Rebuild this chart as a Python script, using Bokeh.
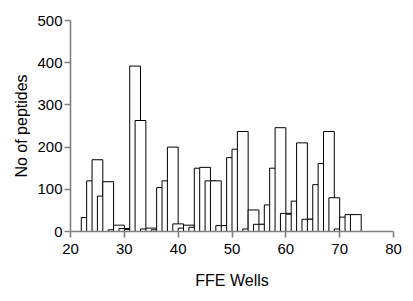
from bokeh.plotting import figure
from bokeh.models import Range1d, FixedTicker, ColumnDataSource
from bokeh.embed import file_html
from bokeh.resources import INLINE

# FFE well numbers (each bar spans two wells, drawn in order)
wells = [22, 23, 24, 25, 26, 27, 28, 29, 30, 31, 32, 33, 34, 35, 36, 37, 38,
         39, 40, 41, 42, 43, 44, 45, 46, 47, 48, 49, 50, 51, 52, 53, 54, 55,
         56, 57, 58, 59, 60, 61, 62, 63, 64, 65, 66, 67, 68, 69, 70, 71, 72]
peptides = [33, 120, 170, 84, 118, 4, 15, 7, 5, 392, 263, 6, 8, 4, 104, 120, 200,
            18, 8, 15, 10, 150, 152, 120, 120, 14, 14, 175, 195, 237, 6, 51, 17, 17,
            63, 150, 246, 43, 41, 72, 210, 29, 29, 111, 161, 237, 80, 6, 34, 40, 40]
bin_span = 2
x_ticks = [20, 30, 40, 50, 60, 70, 80]
y_ticks = [0, 100, 200, 300, 400, 500]

src = ColumnDataSource(dict(
    center=[w + bin_span / 2 for w in wells],
    top=peptides,
))

p = figure(width=413, height=301, output_backend="svg", toolbar_location=None,
           x_range=Range1d(20, 80), y_range=Range1d(0, 500),
           min_border_left=70, min_border_right=20, min_border_top=20,
           min_border_bottom=70)

p.vbar(x="center", width=bin_span, top="top", bottom=0, source=src,
       fill_color="white", line_color="black", line_width=1)

p.xgrid.visible = False
p.ygrid.visible = False
p.outline_line_color = None
p.background_fill_color = "white"
p.border_fill_color = "white"

font = "Liberation Sans"
for ax in (p.xaxis[0], p.yaxis[0]):
    ax.axis_line_color = "#808080"
    ax.axis_line_width = 1.6
    ax.major_tick_line_color = "#808080"
    ax.major_tick_line_width = 1.6
    ax.major_tick_out = 6
    ax.major_tick_in = 0
    ax.minor_tick_line_color = None
    ax.major_label_text_font = font
    ax.major_label_text_font_size = "15px"
    ax.major_label_text_color = "black"
    ax.axis_label_text_font = font
    ax.axis_label_text_font_size = "16px"
    ax.axis_label_text_font_style = "normal"
    ax.axis_label_text_color = "black"

p.xaxis[0].ticker = FixedTicker(ticks=x_ticks)
p.yaxis[0].ticker = FixedTicker(ticks=y_ticks)
p.xaxis[0].axis_label = "FFE Wells"
p.yaxis[0].axis_label = "No of peptides"
p.xaxis[0].major_label_standoff = 6
p.yaxis[0].major_label_standoff = 2
p.xaxis[0].axis_label_standoff = 15
p.yaxis[0].axis_label_standoff = 4

open("out.html", "w").write(file_html(p, INLINE))
